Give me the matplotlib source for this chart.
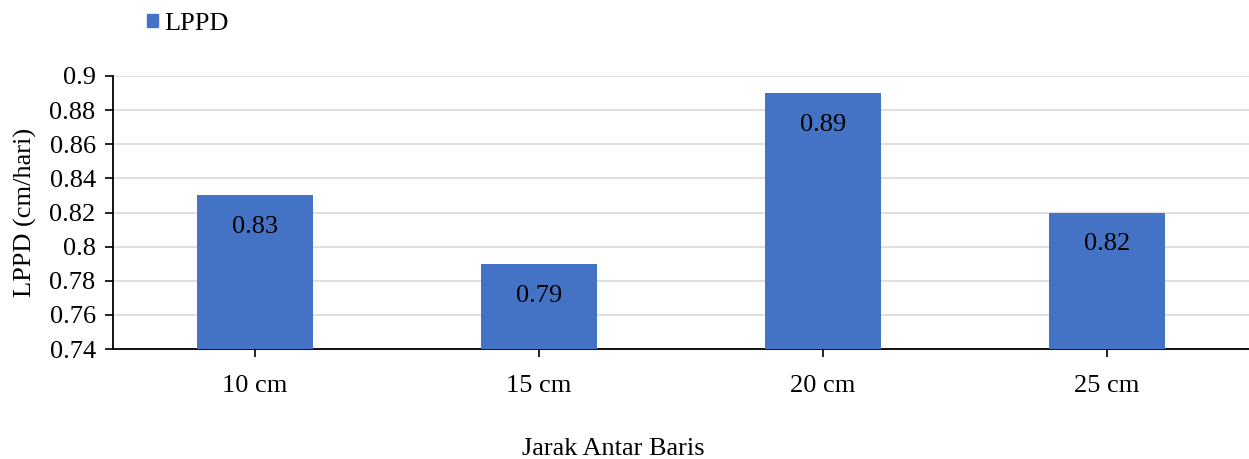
import matplotlib.pyplot as plt
from matplotlib.patches import Patch

plt.rcParams['font.family'] = ['Liberation Serif', 'DejaVu Serif']

categories = ['10 cm', '15 cm', '20 cm', '25 cm']
lppd = [0.83, 0.79, 0.89, 0.82]
yticks = [0.74, 0.76, 0.78, 0.80, 0.82, 0.84, 0.86, 0.88, 0.90]
ytick_labels = ['0.74', '0.76', '0.78', '0.8', '0.82', '0.84', '0.86', '0.88', '0.9']

bar_color = '#4472C4'
fs = 19

fig = plt.figure(figsize=(12.49, 4.59), dpi=100)
ax = fig.add_axes([113 / 1249, 1 - 349 / 459, 1 - 113 / 1249, (349 - 76) / 459])

x = range(len(categories))
bars = ax.bar(x, [v - 0.74 for v in lppd], bottom=0.74, width=0.41, color=bar_color, zorder=3)

for xi, v in zip(x, lppd):
    ax.annotate(f'{v:.2f}', (xi, v), xytext=(0, -23), textcoords='offset points',
                ha='center', va='center', fontsize=fs, zorder=4)

ax.set_xlim(-0.5, 3.5)
ax.set_ylim(0.74, 0.90)
ax.set_yticks(yticks)
ax.set_yticklabels(ytick_labels, fontsize=fs)
ax.set_xticks(list(x))
ax.set_xticklabels(categories, fontsize=fs)
ax.tick_params(axis='both', direction='out', length=5.5, width=1.2, color='black')
ax.tick_params(axis='x', pad=13)
ax.tick_params(axis='y', pad=7)

ax.grid(axis='y', color='#D9D9D9', linewidth=1.2, zorder=0)
for s in ['top', 'right']:
    ax.spines[s].set_visible(False)
ax.spines['left'].set_linewidth(1.3)
ax.spines['bottom'].set_linewidth(1.3)

ax.set_ylabel('LPPD (cm/hari)', fontsize=fs, labelpad=9)
fig.text(613 / 1249, 1 - 449 / 459, 'Jarak Antar Baris', ha='center', va='center', fontsize=fs)

fig.legend(handles=[Patch(color=bar_color, label='LPPD')], loc='center left',
           bbox_to_anchor=(123 / 1249, 1 - 24 / 459), frameon=False, fontsize=fs,
           handlelength=0.42, handleheight=0.42, handletextpad=0.25)

fig.savefig('out.png', dpi=100)
